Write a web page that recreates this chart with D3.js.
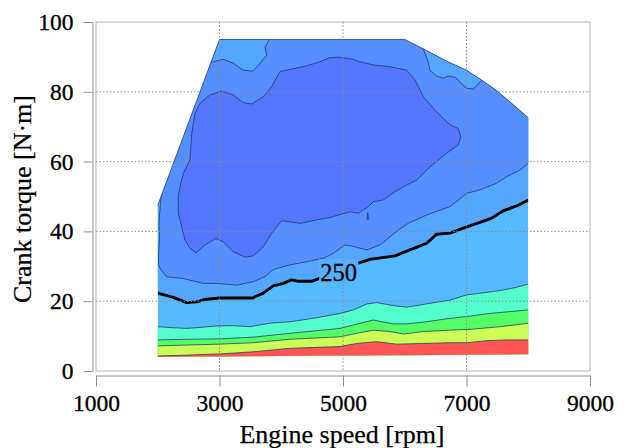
<!DOCTYPE html>
<html><head><meta charset="utf-8">
<script src="https://cdn.jsdelivr.net/npm/d3@7"></script>
<style>html,body{margin:0;padding:0;background:#fff}</style>
</head><body><svg id="chart" width="628" height="448"></svg>
<script>
// Operating envelope of the engine map [rpm, N·m]
const envelope = [[2000,4.0],[2000,47.5],[3000,95],[6000,95],[6300,92.3],[6700,88.6],[7000,86.2],[7250,83.3],[7500,80.2],[7750,76.4],[8000,72.6],[8000,4.8],[6000,4.5],[4000,4.3]];

// Iso-BSFC contours [rpm, N·m]
const isoCore = [[2333,50.1],[2360,52.8],[2414,56.6],[2522,60.5],[2550,68.1],[2603,73.8],[2684,76.7],[2846,79.1],[3036,80.2],[3223,79.1],[3385,76.9],[3521,76.5],[3709,78.6],[3845,81.5],[3980,85.8],[4142,86.4],[4357,87.2],[4627,88.6],[4789,89.8],[4951,89.9],[5167,89.3],[5275,88.6],[5491,87.7],[5761,87.2],[6031,86.2],[6166,83.4],[6300,78.6],[6462,75.3],[6733,70.5],[6867,69.5],[6906,67.1],[6867,64.8],[6679,62.4],[6409,58.5],[6193,54.7],[6031,53.3],[5842,51.4],[5653,49.0],[5491,48.5],[5410,47.1],[5248,45.2],[5113,45.6],[4789,44.0],[4574,43.3],[4304,42.3],[4007,43.1],[3845,39.5],[3709,35.6],[3547,33.0],[3413,32.6],[3223,34.2],[3061,37.0],[2943,38.0],[2765,36.1],[2619,33.9],[2522,35.2],[2441,37.5],[2333,45.2]];
const isoSmall = [[5388,43.6],[5400,45.3],[5412,43.6],[5400,43.3]];
const iso245 = [[2060,52],[2045,48],[2030,45],[2020,42],[2030,38.5],[2018,35],[2012,32],[2015,30.5],[2036,29.4],[2144,27.0],[2414,26.5],[2738,25.1],[2955,25.1],[3279,24.6],[3547,25.6],[3737,27.0],[3871,29.1],[4142,30.4],[4412,31.3],[4681,32.3],[4843,33.7],[5032,36.1],[5141,35.8],[5384,34.7],[5599,36.1],[5896,40.4],[6057,42.3],[6355,44.7],[6733,47.1],[7003,50.9],[7219,51.9],[7489,53.8],[7651,55.7],[7866,57.6],[8000,59.5]];
const patchLeft = [[2860,88.4],[3061,89.3],[3223,88.2],[3385,86.2],[3537,85.9],[3628,87.6],[3764,90.5],[3737,92.9],[3806,95]];
const patchRight = [[6300,92.3],[6381,88.5],[6410,86.1],[6514,84.5],[6624,83.9],[6705,84.5],[6814,84.2],[6895,82.8],[7003,81.0],[7110,80.8],[7246,83.3]];
const iso250 = [[2000,22.3],[2250,21.1],[2468,19.6],[2630,19.8],[2765,20.5],[3008,20.9],[3530,20.9],[3709,22.3],[3870,24.4],[4033,25.1],[4168,26.1],[4276,25.7],[4493,25.7],[4600,26.4],[4930,28.7],[5248,30.9],[5437,32.0],[5842,33.0],[6085,34.7],[6355,36.6],[6517,39.2],[6733,39.5],[7003,41.3],[7219,42.6],[7408,43.8],[7596,45.9],[7812,47.3],[8000,49.0]];
const iso300 = [[2000,12.7],[2252,12.4],[2469,12.2],[2684,12.5],[2955,12.9],[3223,13.0],[3494,12.7],[3818,13.7],[4142,14.1],[4412,14.8],[4681,15.6],[4951,16.5],[5167,17.5],[5384,19.2],[5546,19.6],[5761,18.9],[5869,18.6],[6031,18.3],[6139,18.6],[6409,19.4],[6733,20.3],[7003,21.8],[7272,22.4],[7596,23.2],[7812,24.0],[8000,24.9]];
const iso350 = [[2000,8.9],[2500,9.1],[3008,9.2],[3547,9.7],[4142,10.8],[4951,12.2],[5167,13.2],[5491,14.6],[5815,13.5],[6031,13.5],[6355,14.1],[6733,15.1],[7003,15.6],[7381,16.5],[8000,17.5]];
const iso400 = [[2000,7.2],[3008,7.7],[3547,8.1],[4142,9.1],[4951,9.8],[5221,10.8],[5491,11.7],[5761,11.3],[5977,10.6],[6301,11.3],[6733,11.7],[7110,12.0],[7542,12.7],[8000,13.7]];
const iso500 = [[2000,4.3],[2400,4.5],[2684,4.7],[3008,4.9],[3547,5.5],[4142,6.5],[4951,7.0],[5221,7.9],[5546,8.4],[5869,7.7],[6301,7.9],[6733,8.1],[7003,8.1],[7327,8.7],[7651,8.9],[8000,8.9]];

const labelText = "250";
const labelAt = [4930, 28.8];

const xTicks = [1000,3000,5000,7000,9000];
const yTicks = [0,20,40,60,80,100];
const xGrid = [3000,5000,7000];
const yGrid = [20,40,60,80];

const fills = {core:"#5577ff", b:"#558eff", c:"#55a6ff", d:"#55baff",
  cyan:"#55ffcc", green:"#55ff66", lime:"#ccff55", red:"#ff5555", box:"#55b0ff"};

const svg = d3.select("#chart");
const x = d3.scaleLinear().domain([1000,9000]).range([96,590]);
const y = d3.scaleLinear().domain([0,100]).range([371,22]);
const line = d3.line().x(d=>x(d[0])).y(d=>y(d[1]));
const poly = pts => line(pts) + "Z";
const first = a => a[0], last = a => a[a.length-1];

svg.append("defs").append("clipPath").attr("id","env")
  .append("path").attr("d", poly(envelope));

// plot frame
svg.append("rect").attr("x",96).attr("y",22).attr("width",494).attr("height",349)
  .attr("fill","none").attr("stroke","#b4b4b4").attr("stroke-width",1);

const g = svg.append("g").attr("clip-path","url(#env)");
g.append("path").attr("d", poly(envelope)).attr("fill", fills.d);

// regions on the low-consumption side of a contour
const above = (pts) => poly([...pts, [8300,last(pts)[1]],[8300,120],[first(pts)[0],120]]);
const aboveL = (pts) => poly([...pts, [8300,last(pts)[1]],[8300,120],[1800,120],[1800,first(pts)[1]]]);
const belowL = (pts) => poly([...pts, [8300,last(pts)[1]],[8300,-10],[1800,-10],[1800,first(pts)[1]]]);

g.append("path").attr("d", aboveL(iso250)).attr("fill", fills.c);
g.append("path").attr("d", above(iso245)).attr("fill", fills.b);
g.append("path").attr("d", poly([...patchLeft,[last(patchLeft)[0],110],[first(patchLeft)[0],110]])).attr("fill", fills.c);
g.append("path").attr("d", poly([...patchRight,[7350,110],[first(patchRight)[0],110]])).attr("fill", fills.c);
g.append("path").attr("d", poly(isoCore)).attr("fill", fills.core);
g.append("path").attr("d", poly(isoSmall)).attr("fill", fills.core);

g.append("path").attr("d", belowL(iso300)).attr("fill", fills.cyan);
g.append("path").attr("d", belowL(iso350)).attr("fill", fills.green);
g.append("path").attr("d", belowL(iso400)).attr("fill", fills.lime);
g.append("path").attr("d", belowL(iso500)).attr("fill", fills.red);

// thin contour lines
const thin = {stroke:"#22336a", "stroke-width":0.9, fill:"none", "stroke-opacity":0.85};
const addThin = (d) => { const p = g.append("path").attr("d", d); Object.entries(thin).forEach(([k,v])=>p.attr(k,v)); };
[iso245, patchLeft, patchRight, iso300, iso350, iso400, iso500].forEach(a => addThin(line(a)));
addThin(poly(isoCore));
addThin(poly(isoSmall));

// upper boundary of the envelope (full-load curve)
svg.append("path").attr("d", line(envelope.slice(1, 11)))
  .attr("fill","none").attr("stroke","#2a3a6a").attr("stroke-width",0.9).attr("stroke-opacity",0.8);

// 250 g/kWh contour
g.append("path").attr("d", line(iso250)).attr("fill","none")
  .attr("stroke","#000").attr("stroke-width",2.9).attr("stroke-linejoin","round");

// label box
const lx = x(labelAt[0]), ly = y(labelAt[1]);
svg.append("rect").attr("x", lx-19.5).attr("y", ly-11.5).attr("width",39).attr("height",23)
  .attr("fill", fills.box);

// grid
const grid = svg.append("g").attr("stroke","#8c8c8c").attr("stroke-width",1).attr("stroke-dasharray","1.5,2");
xGrid.forEach(v => grid.append("line").attr("x1",x(v)).attr("x2",x(v)).attr("y1",22).attr("y2",371));
yGrid.forEach(v => grid.append("line").attr("y1",y(v)).attr("y2",y(v)).attr("x1",96).attr("x2",590));

const font = "'Liberation Serif', serif";
svg.append("text").attr("x", lx).attr("y", ly+10.5).attr("text-anchor","middle")
  .attr("font-family", font).attr("font-size",24.5).attr("fill","#000")
  .attr("stroke","#000").attr("stroke-width",0.3)
  .text(labelText);

// axes
const yAxis = svg.append("g").attr("transform","translate(92.5,0)")
  .call(d3.axisLeft(y).tickValues(yTicks).tickSize(9).tickSizeOuter(0).tickPadding(10));
const xAxis = svg.append("g").attr("transform","translate(0,375.5)")
  .call(d3.axisBottom(x).tickValues(xTicks).tickSize(11).tickSizeOuter(0).tickPadding(8).tickFormat(d3.format("d")));
[yAxis, xAxis].forEach(a => {
  a.select(".domain").attr("stroke","#909090");
  a.selectAll(".tick line").attr("stroke","#909090");
  a.selectAll(".tick text").attr("font-family", font).attr("font-size",23.5).attr("fill","#000")
    .attr("stroke","#000").attr("stroke-width",0.3);
});

svg.append("text").attr("x",342).attr("y",443).attr("text-anchor","middle")
  .attr("font-family", font).attr("font-size",26).attr("fill","#000")
  .attr("stroke","#000").attr("stroke-width",0.25)
  .text("Engine speed [rpm]");
svg.append("text").attr("transform","translate(31,199) rotate(-90)").attr("text-anchor","middle")
  .attr("font-family", font).attr("font-size",26).attr("fill","#000")
  .attr("stroke","#000").attr("stroke-width",0.25)
  .text("Crank torque [N·m]");
</script></body></html>
